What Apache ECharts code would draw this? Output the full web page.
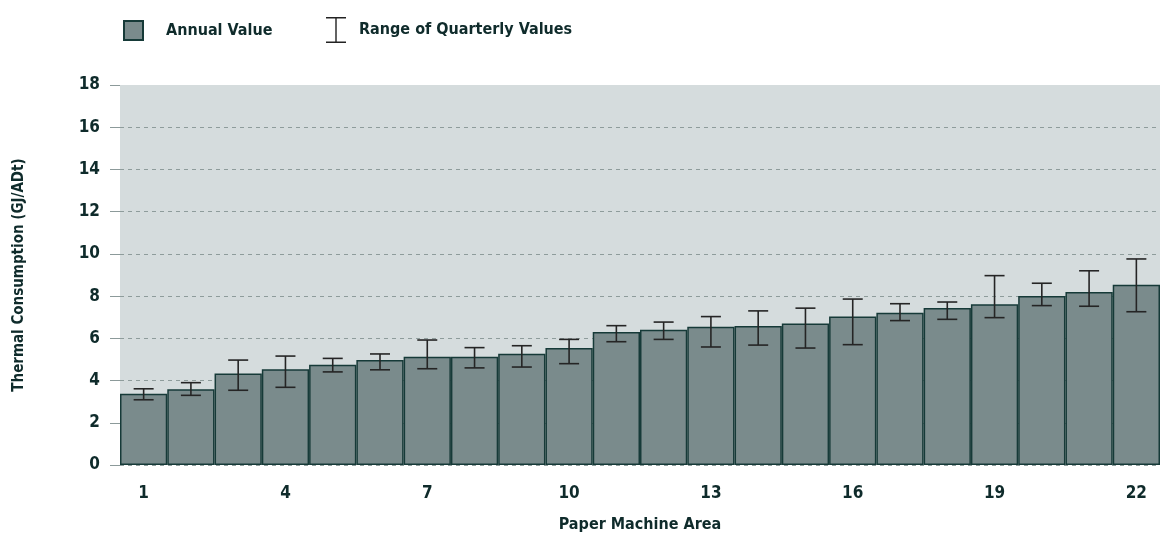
<!DOCTYPE html>
<html>
<head>
<meta charset="utf-8">
<script src="https://cdn.jsdelivr.net/npm/echarts@6/dist/echarts.min.js"></script>
<style>
  html, body { margin: 0; padding: 0; background: #fff; }
  #main { width: 1160px; height: 539px; }
</style>
</head>
<body>
<div id="main"></div>
<script>
'use strict';

// paper machine areas 1..22
var areas = ['1', '2', '3', '4', '5', '6', '7', '8', '9', '10', '11',
    '12', '13', '14', '15', '16', '17', '18', '19', '20', '21', '22'];

// annual thermal consumption (GJ/ADt)
var annualValues = [3.38, 3.59, 4.34, 4.53, 4.75, 4.97, 5.13, 5.13, 5.27, 5.54, 6.30,
    6.41, 6.55, 6.58, 6.70, 7.03, 7.21, 7.44, 7.61, 8.01, 8.20, 8.54];

// range of quarterly values
var quarterLow = [3.09, 3.30, 3.54, 3.68, 4.41, 4.51, 4.56, 4.60, 4.64, 4.80, 5.84,
    5.95, 5.59, 5.68, 5.54, 5.70, 6.84, 6.90, 6.98, 7.55, 7.52, 7.26];
var quarterHigh = [3.61, 3.90, 4.97, 5.16, 5.05, 5.26, 5.92, 5.56, 5.65, 5.95, 6.60,
    6.77, 7.03, 7.30, 7.43, 7.86, 7.64, 7.72, 8.97, 8.61, 9.20, 9.76];

var yTicks = [0, 2, 4, 6, 8, 10, 12, 14, 16, 18];

var font = '"DejaVu Sans Condensed", "Liberation Sans Narrow", sans-serif';
var textColor = '#0f2b2b';

var rangeData = areas.map(function (a, i) {
    return [i, quarterLow[i], quarterHigh[i]];
});

// dashed grid lines, none along the top edge
var gridColors = yTicks.map(function (t, i) {
    return i === yTicks.length - 1 ? 'rgba(0,0,0,0)' : '#8e9c9b';
});

var chart = echarts.init(document.getElementById('main'));

var option = {
    animation: false,
    legend: [{
        data: [{name: 'Annual Value', icon: 'rect'}],
        left: 118,
        top: 15,
        itemWidth: 19,
        itemHeight: 19,
        textStyle: {
            fontFamily: font, fontWeight: 'bold', fontSize: 16, color: textColor,
            padding: [0, 0, 0, 18]
        }
    }, {
        data: [{
            name: 'Range of Quarterly Values',
            icon: 'path://M0,0h20v1.4h-20z M9.3,0h1.4v26h-1.4z M0,24.6h20v1.4h-20z'
        }],
        left: 321,
        top: 12,
        itemWidth: 20,
        itemHeight: 26,
        itemStyle: {color: '#222'},
        textStyle: {
            fontFamily: font, fontWeight: 'bold', fontSize: 16, color: textColor,
            padding: [0, 0, 0, 8]
        }
    }],
    grid: {
        left: 120,
        right: 0,
        top: 85,
        bottom: 74,
        show: true,
        backgroundColor: '#d5dcdd',
        borderWidth: 0
    },
    xAxis: {
        type: 'category',
        data: areas,
        name: 'Paper Machine Area',
        nameLocation: 'middle',
        nameGap: 52,
        nameTextStyle: {fontFamily: font, fontWeight: 'bold', fontSize: 16, color: textColor},
        axisLine: {show: false},
        axisTick: {show: false},
        axisLabel: {
            interval: 2,
            margin: 20,
            fontFamily: font, fontWeight: 'bold', fontSize: 17, color: textColor
        }
    },
    yAxis: {
        type: 'value',
        min: yTicks[0],
        max: yTicks[yTicks.length - 1],
        interval: 2,
        name: 'Thermal Consumption (GJ/ADt)',
        nameLocation: 'middle',
        nameGap: 93,
        nameTextStyle: {fontFamily: font, fontWeight: 'bold', fontSize: 15, color: textColor},
        axisLine: {show: false},
        axisTick: {show: true, length: 10, lineStyle: {color: '#8c9a9a', width: 1}},
        axisLabel: {
            margin: 20,
            fontFamily: font, fontWeight: 'bold', fontSize: 17, color: textColor
        },
        splitLine: {show: true, lineStyle: {color: gridColors, type: [4, 4], width: 1}}
    },
    series: [{
        name: 'Annual Value',
        type: 'bar',
        data: annualValues,
        barWidth: '100%',
        itemStyle: {color: '#7a8b8c', borderColor: '#163a38', borderWidth: 1.5}
    }, {
        name: 'Range of Quarterly Values',
        type: 'custom',
        data: rangeData,
        itemStyle: {color: '#222'},
        z: 5,
        renderItem: function (params, api) {
            var x = api.value(0);
            var lo = api.coord([x, api.value(1)]);
            var hi = api.coord([x, api.value(2)]);
            var half = 10;
            var style = {stroke: '#252525', lineWidth: 1.6, fill: null};
            return {
                type: 'group',
                children: [
                    {type: 'line', shape: {x1: hi[0], y1: hi[1], x2: lo[0], y2: lo[1]}, style: style},
                    {type: 'line', shape: {x1: hi[0] - half, y1: hi[1], x2: hi[0] + half, y2: hi[1]}, style: style},
                    {type: 'line', shape: {x1: lo[0] - half, y1: lo[1], x2: lo[0] + half, y2: lo[1]}, style: style}
                ]
            };
        }
    }]
};

chart.setOption(option);
</script>
</body>
</html>
